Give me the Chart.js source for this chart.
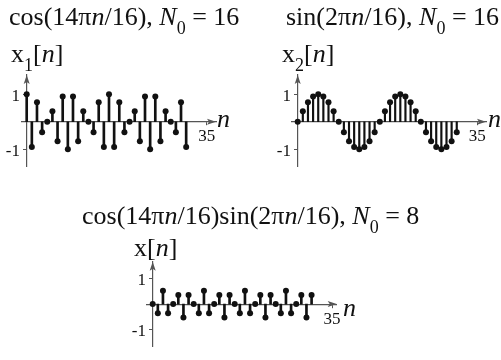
<!DOCTYPE html>
<html>
<head>
<meta charset="utf-8">
<script src="https://cdn.jsdelivr.net/npm/chart.js@4.4.1/dist/chart.umd.min.js"></script>
<style>
  body { margin: 0; background: #fff; }
  #wrap { position: relative; width: 501px; height: 360px; overflow: hidden;
          font-family: "Liberation Serif", "DejaVu Serif", serif; color: #111; }
  canvas { position: absolute; left: 0; top: 0; }
  .t { position: absolute; font-size: 26px; line-height: 1; white-space: nowrap; }
  .t sub { font-size: 18px; vertical-align: -9px; line-height: 0; }
</style>
</head>
<body>
<div id="wrap">
  <canvas id="c1" width="501" height="360"></canvas>
  <canvas id="c2" width="501" height="360"></canvas>
  <canvas id="c3" width="501" height="360"></canvas>

  <div class="t" style="left:9px;top:4px">cos(14π<i>n</i>/16), <i>N</i><sub>0</sub> = 16</div>
  <div class="t" style="left:286px;top:4px">sin(2π<i>n</i>/16), <i>N</i><sub>0</sub> = 16</div>
  <div class="t" style="left:82px;top:203px">cos(14π<i>n</i>/16)sin(2π<i>n</i>/16), <i>N</i><sub>0</sub> = 8</div>

  <div class="t" style="left:11px;top:41px">x<sub>1</sub>[<i>n</i>]</div>
  <div class="t" style="left:282px;top:41px">x<sub>2</sub>[<i>n</i>]</div>
  <div class="t" style="left:134px;top:235px">x[<i>n</i>]</div>

  <div class="t" style="left:217px;top:106px"><i>n</i></div>
  <div class="t" style="left:488px;top:106px"><i>n</i></div>
  <div class="t" style="left:343px;top:295px"><i>n</i></div>
</div>

<script>
// x1[n] = cos(14πn/16), n = 0..31
const x1Values = [
  1, -0.92, 0.71, -0.38, 0, 0.38, -0.71, 0.92,
  -1, 0.92, -0.71, 0.38, 0, -0.38, 0.71, -0.92,
  1, -0.92, 0.71, -0.38, 0, 0.38, -0.71, 0.92,
  -1, 0.92, -0.71, 0.38, 0, -0.38, 0.71, -0.92,
]

// x2[n] = sin(2πn/16), n = 0..31
const x2Values = [
  0, 0.38, 0.71, 0.92, 1, 0.92, 0.71, 0.38,
  0, -0.38, -0.71, -0.92, -1, -0.92, -0.71, -0.38,
  0, 0.38, 0.71, 0.92, 1, 0.92, 0.71, 0.38,
  0, -0.38, -0.71, -0.92, -1, -0.92, -0.71, -0.38,
]

// x[n] = x1[n] * x2[n], period 8
const x3Values = [
  0, -0.36, 0.52, -0.36, 0, 0.36, -0.52, 0.36,
  0, -0.36, 0.52, -0.36, 0, 0.36, -0.52, 0.36,
  0, -0.36, 0.52, -0.36, 0, 0.36, -0.52, 0.36,
  0, -0.36, 0.52, -0.36, 0, 0.36, -0.52, 0.36,
]

const yTicks = [-1, 1]
const nTicks = [35]

const AXIS = '#555'
const INK = '#111'

// arrow heads on the right end of the n axis and the top of the value axis
const axisArrows = {
  id: 'axisArrows',
  afterDatasetsDraw(chart) {
    const { ctx, chartArea: a, scales } = chart
    const y0 = scales.y.getPixelForValue(0)
    const x0 = scales.x.getPixelForValue(0)
    ctx.save()
    ctx.fillStyle = AXIS
    ctx.beginPath()
    ctx.moveTo(a.right, y0)
    ctx.lineTo(a.right - 9, y0 - 3)
    ctx.lineTo(a.right - 7, y0)
    ctx.lineTo(a.right - 9, y0 + 3)
    ctx.closePath()
    ctx.fill()
    ctx.beginPath()
    ctx.moveTo(x0, a.top)
    ctx.lineTo(x0 - 3, a.top + 9)
    ctx.lineTo(x0, a.top + 7)
    ctx.lineTo(x0 + 3, a.top + 9)
    ctx.closePath()
    ctx.fill()
    ctx.restore()
  },
}

function stemChart(canvas, values, o) {
  const points = values.map((y, n) => ({ x: n, y }))
  const tickFont = { family: 'Liberation Serif', size: 17 }
  return new Chart(canvas, {
    type: 'bar',
    data: {
      datasets: [
        {
          type: 'bar',
          data: points,
          backgroundColor: INK,
          barThickness: o.stem,
          order: 2,
        },
        {
          type: 'line',
          data: points,
          showLine: false,
          pointRadius: 3,
          pointBackgroundColor: INK,
          pointBorderWidth: 0,
          order: 1,
        },
      ],
    },
    options: {
      responsive: false,
      animation: false,
      events: [],
      layout: {
        padding: { left: o.left, right: 501 - o.right, top: o.top, bottom: 360 - o.bottom },
      },
      plugins: { legend: { display: false }, tooltip: { enabled: false } },
      scales: {
        x: {
          type: 'linear',
          position: { y: 0 },
          min: o.xmin,
          max: o.xmax,
          offset: false,
          afterBuildTicks: (s) => { s.ticks = nTicks.map((v) => ({ value: v })) },
          grid: { drawOnChartArea: false, offset: false, tickLength: 3, color: AXIS },
          border: { color: AXIS, width: 1.2 },
          ticks: { font: tickFont, color: INK, padding: 2, maxRotation: 0 },
        },
        y: {
          position: { x: 0 },
          min: o.ymin,
          max: o.ymax,
          afterBuildTicks: (s) => { s.ticks = yTicks.map((v) => ({ value: v })) },
          grid: { drawOnChartArea: false, tickLength: 3, color: AXIS },
          border: { color: AXIS, width: 1.2 },
          // labels sit right-aligned on the axis line, so pad them with thin spaces
          ticks: {
            font: tickFont,
            color: INK,
            labelOffset: 2,
            callback: (v) => v + '\u2009\u2009',
          },
        },
      },
    },
    plugins: [axisArrows],
  })
}

stemChart(document.getElementById('c1'), x1Values, {
  left: 21.7, right: 216, top: 75, bottom: 166,
  xmin: -0.97, xmax: 36.8, ymin: -1.61, ymax: 1.7, stem: 2,
})
stemChart(document.getElementById('c2'), x2Values, {
  left: 291.7, right: 486, top: 75, bottom: 166,
  xmin: -1.17, xmax: 36.7, ymin: -1.61, ymax: 1.7, stem: 1.5,
})
stemChart(document.getElementById('c3'), x3Values, {
  left: 146.7, right: 336.7, top: 261.7, bottom: 360,
  xmin: -1.17, xmax: 35.9, ymin: -1.67, ymax: 1.66, stem: 2,
})
</script>
</body>
</html>
